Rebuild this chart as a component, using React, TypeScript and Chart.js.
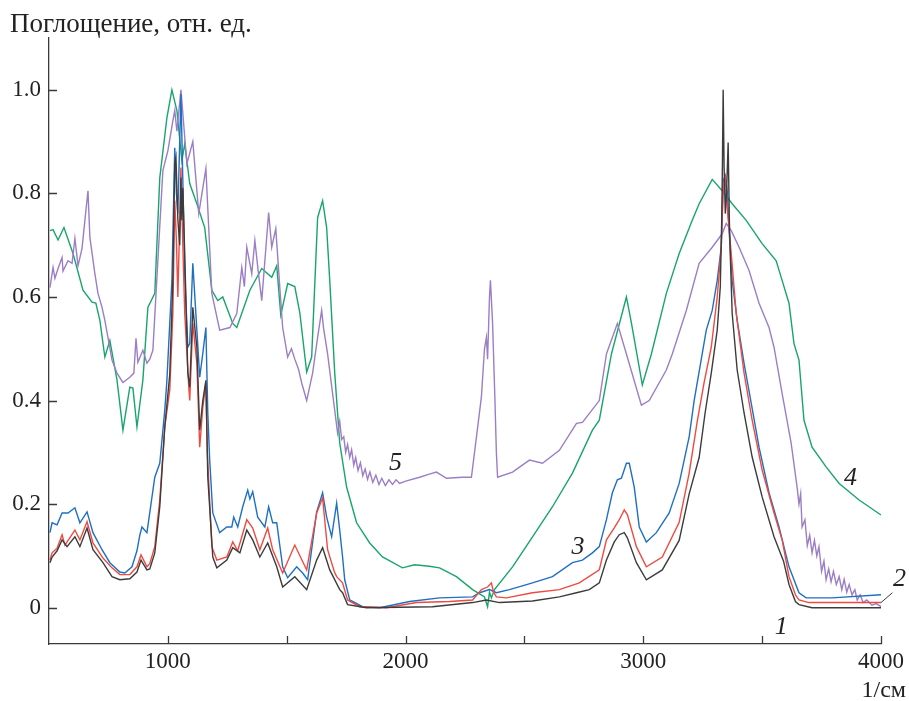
import { useEffect, useRef } from "react";
import { Chart, registerables } from "chart.js";

Chart.register(...registerables);

const SERIF = '"Liberation Serif", "Times New Roman", serif';

// Curve 1 (black)
const wn1 = [504,513,534,555,576,609,630,660,685,727,765,798,840,870,887,912,924,945,966,987,1008,1021,1029,1034,1042,1050,1055,1059,1063,1071,1084,1092,1105,1122,1134,1147,1160,1168,1189,1206,1248,1273,1303,1332,1357,1387,1420,1458,1483,1534,1584,1626,1651,1681,1723,1735,1756,1836,2113,2282,2340,2395,2534,2647,2719,2773,2815,2845,2878,2899,2920,2933,2971,3013,3080,3151,3193,3235,3260,3286,3311,3324,3330,3333,3336,3340,3345,3350,3353,3357,3362,3366,3374,3395,3424,3458,3500,3550,3590,3613,3640,3655,3710,4000];
const ab1 = [.087,.098,.11,.131,.118,.137,.118,.154,.112,.087,.06,.054,.056,.069,.092,.073,.075,.106,.195,.349,.45,.632,.857,.87,.75,.7,.83,.748,.811,.684,.453,.426,.58,.503,.343,.4,.439,.252,.098,.077,.092,.116,.106,.15,.131,.098,.125,.079,.04,.06,.035,.092,.116,.073,.035,.029,.006,0,.002,.01,.015,.01,.013,.021,.029,.035,.048,.092,.127,.141,.145,.135,.087,.054,.073,.13,.22,.29,.376,.453,.536,.62,.75,.86,1.0,.85,.761,.8,.84,.898,.75,.68,.568,.459,.376,.291,.214,.137,.09,.045,.012,.006,0,0];

// Curve 2 (red)
const wn2 = [504,513,534,555,567,609,630,660,685,727,765,798,840,870,887,912,924,945,966,987,1008,1021,1029,1036,1042,1048,1055,1063,1071,1088,1092,1105,1122,1134,1147,1160,1166,1185,1206,1248,1273,1294,1332,1357,1387,1420,1441,1483,1534,1584,1626,1651,1672,1700,1710,1735,1756,1807,1920,2046,2185,2282,2319,2345,2361,2370,2382,2424,2534,2647,2731,2815,2845,2878,2899,2920,2933,2971,3013,3080,3151,3193,3227,3256,3286,3311,3328,3336,3345,3353,3370,3391,3424,3458,3500,3550,3584,3613,3640,3655,3697,4000];
const ab2 = [.092,.106,.115,.141,.121,.15,.131,.166,.125,.096,.077,.064,.064,.079,.102,.079,.085,.118,.208,.349,.42,.568,.786,.709,.6,.709,.85,.7,.568,.426,.4,.549,.472,.31,.387,.434,.3,.118,.092,.098,.127,.11,.17,.154,.112,.154,.112,.067,.121,.073,.183,.212,.112,.07,.06,.048,.015,.002,0,.01,.012,.015,.035,.04,.048,.03,.021,.019,.029,.035,.048,.073,.131,.154,.17,.189,.18,.118,.079,.098,.165,.26,.36,.435,.503,.6,.696,.805,.83,.773,.684,.568,.453,.362,.266,.183,.131,.06,.025,.015,.01,.01];

// Curve 3 (blue)
const wn3 = [504,513,534,555,580,609,630,660,685,723,756,798,819,849,870,882,891,912,945,966,987,996,1017,1029,1036,1042,1055,1063,1071,1084,1092,1105,1122,1134,1147,1160,1168,1176,1189,1218,1248,1269,1277,1294,1315,1336,1345,1357,1378,1408,1424,1441,1458,1483,1504,1542,1567,1588,1626,1651,1668,1689,1710,1723,1735,1744,1765,1819,1891,2017,2143,2282,2311,2353,2382,2437,2534,2618,2702,2744,2786,2815,2845,2870,2891,2908,2929,2941,2962,2983,3013,3055,3109,3151,3193,3214,3244,3265,3290,3311,3328,3336,3345,3353,3361,3374,3395,3424,3454,3487,3529,3571,3613,3655,3685,3794,4000];
const ab3 = [.145,.164,.16,.183,.183,.193,.164,.185,.145,.112,.087,.069,.067,.079,.11,.14,.156,.145,.252,.279,.381,.439,.632,.888,.8,.761,.992,.825,.645,.503,.51,.665,.536,.445,.491,.541,.376,.285,.183,.145,.156,.156,.175,.156,.195,.227,.21,.224,.175,.156,.195,.164,.164,.079,.058,.079,.067,.054,.185,.222,.175,.137,.202,.15,.098,.054,.015,.002,0,.012,.019,.021,.029,.035,.029,.035,.048,.06,.087,.092,.106,.118,.17,.222,.247,.25,.279,.279,.233,.156,.127,.145,.183,.24,.33,.4,.48,.536,.574,.632,.696,.825,.834,.805,.728,.632,.555,.472,.395,.31,.222,.156,.079,.029,.019,.019,.025];

// Curve 4 (green)
const wn4 = [504,517,538,563,601,643,681,697,714,735,756,786,811,840,853,870,895,916,945,966,996,1017,1038,1059,1071,1092,1122,1155,1185,1210,1231,1273,1290,1345,1395,1437,1458,1475,1504,1534,1555,1584,1605,1630,1651,1668,1681,1702,1723,1752,1794,1849,1903,1987,2038,2100,2143,2214,2282,2332,2345,2353,2361,2374,2450,2534,2618,2702,2786,2815,2866,2929,2950,2996,3034,3097,3151,3206,3235,3290,3332,3374,3433,3500,3559,3584,3613,3634,3655,3676,3710,3769,3824,3908,4000];
const ab4 = [.728,.73,.71,.734,.684,.613,.59,.588,.555,.484,.516,.44,.343,.426,.424,.349,.44,.58,.607,.83,.946,1.0,.96,.863,.896,.819,.78,.734,.613,.593,.6,.549,.541,.613,.655,.638,.66,.565,.626,.62,.57,.455,.484,.753,.786,.734,.632,.453,.318,.233,.164,.125,.098,.077,.083,.08,.077,.06,.035,.021,.002,.03,.019,.035,.079,.137,.195,.26,.343,.362,.49,.6,.55,.43,.49,.607,.684,.748,.78,.827,.805,.78,.748,.703,.67,.632,.588,.51,.478,.362,.31,.272,.24,.208,.179];

// Curve 5 (purple)
const wn5 = [504,517,525,538,555,559,580,597,609,622,639,651,664,672,693,706,723,735,748,765,786,811,840,857,866,874,895,912,924,937,979,1000,1021,1029,1038,1055,1080,1105,1130,1160,1185,1218,1261,1290,1311,1322,1332,1353,1366,1380,1395,1424,1437,1454,1471,1483,1504,1520,1534,1550,1563,1584,1609,1630,1647,1655,1672,1693,1714,1723,1731,1740,1748,1756,1765,1773,1782,1790,1800,1810,1820,1830,1840,1850,1862,1875,1888,1900,1915,1930,1945,1960,1975,2004,2059,2100,2130,2172,2239,2277,2298,2319,2332,2340,2345,2353,2357,2366,2376,2382,2387,2450,2521,2576,2647,2719,2744,2815,2845,2891,2929,2992,3025,3097,3122,3181,3235,3290,3332,3349,3370,3403,3445,3487,3529,3550,3584,3622,3647,3655,3662,3668,3680,3690,3700,3710,3720,3730,3739,3750,3760,3769,3780,3790,3800,3812,3824,3835,3845,3856,3866,3878,3890,3900,3912,3925,3940,3962,3980,4000];
const ab5 = [.618,.657,.636,.655,.676,.65,.67,.665,.713,.66,.694,.748,.805,.715,.645,.607,.58,.555,.522,.478,.453,.435,.445,.453,.52,.474,.497,.472,.48,.497,.844,.882,.94,.96,.92,1.0,.857,.9,.761,.848,.607,.536,.541,.568,.657,.62,.696,.645,.709,.65,.593,.763,.696,.732,.618,.541,.484,.5,.48,.46,.434,.4,.453,.522,.574,.54,.49,.414,.337,.36,.325,.33,.3,.315,.29,.305,.275,.29,.265,.28,.255,.268,.248,.262,.242,.256,.238,.25,.236,.247,.238,.247,.24,.245,.252,.258,.262,.25,.252,.252,.329,.407,.5,.522,.48,.6,.632,.55,.4,.3,.252,.262,.285,.279,.304,.356,.358,.4,.49,.549,.49,.391,.4,.459,.49,.574,.665,.696,.722,.742,.728,.696,.651,.588,.541,.503,.414,.318,.233,.2,.22,.156,.17,.12,.14,.106,.13,.1,.118,.07,.09,.054,.075,.05,.07,.045,.06,.035,.055,.03,.045,.025,.035,.015,.025,.01,.015,.005,.008,.002];

const xMajorTicks = [1000, 2000, 3000, 4000];
const xAllTicks = [1000, 1500, 2000, 2500, 3000, 3500, 4000];
const yTickValues = [0, 0.2, 0.4, 0.6, 0.8, 1.0];

const curveLabels = [
  { text: "1", x: 3580, y: -0.038 },
  { text: "2", x: 4078, y: 0.055 },
  { text: "3", x: 2725, y: 0.117 },
  { text: "4", x: 3872, y: 0.251 },
  { text: "5", x: 1958, y: 0.28 },
];

const COLORS = {
  c1: "#3c3c3c",
  c2: "#ef4a40",
  c3: "#1f6fc2",
  c4: "#17a56c",
  c5: "#9b7ec6",
};

export default function App() {
  const ref = useRef<HTMLCanvasElement>(null);

  useEffect(() => {
    document.body.style.margin = "0";
    const toPts = (xs: number[], ys: number[]) => xs.map((x, i) => ({ x, y: ys[i] }));
    const ds = (label: string, xs: number[], ys: number[], color: string, order: number) => ({
      label,
      data: toPts(xs, ys),
      borderColor: color,
      backgroundColor: color,
      borderWidth: 1.4,
      pointRadius: 0,
      fill: false,
      tension: 0,
      order,
    });

    const overlay = {
      id: "overlay",
      afterDraw(chart: any) {
        const ctx = chart.ctx as CanvasRenderingContext2D;
        const xs = chart.scales.x;
        const ys = chart.scales.y;
        const area = chart.chartArea;
        ctx.save();
        ctx.strokeStyle = "#3a3a3a";
        ctx.lineWidth = 1.3;
        ctx.beginPath();
        for (const v of yTickValues) {
          const py = Math.round(ys.getPixelForValue(v)) + 0.5;
          ctx.moveTo(area.left, py);
          ctx.lineTo(area.left + 8, py);
        }
        for (const v of xAllTicks) {
          const px = Math.round(xs.getPixelForValue(v)) + 0.5;
          ctx.moveTo(px, area.bottom);
          ctx.lineTo(px, area.bottom - 8);
        }
        ctx.stroke();

        // leader for label 2
        ctx.lineWidth = 1;
        ctx.beginPath();
        ctx.moveTo(xs.getPixelForValue(4048), ys.getPixelForValue(0.029));
        ctx.lineTo(xs.getPixelForValue(4000), ys.getPixelForValue(0.01));
        ctx.stroke();

        ctx.fillStyle = "#222";
        ctx.font = `27px ${SERIF}`;
        ctx.textAlign = "left";
        ctx.textBaseline = "alphabetic";
        ctx.fillText("Поглощение, отн. ед.", 10, 32);

        ctx.font = `24px ${SERIF}`;
        ctx.textAlign = "right";
        ctx.fillText("1/см", 906, 697);

        ctx.font = `italic 26px ${SERIF}`;
        ctx.textAlign = "center";
        ctx.textBaseline = "middle";
        for (const l of curveLabels) {
          ctx.fillText(l.text, xs.getPixelForValue(l.x), ys.getPixelForValue(l.y));
        }
        ctx.restore();
      },
    };

    const chart = new Chart(ref.current as HTMLCanvasElement, {
      type: "line",
      data: {
        datasets: [
          ds("1", wn1, ab1, COLORS.c1, 1),
          ds("2", wn2, ab2, COLORS.c2, 2),
          ds("3", wn3, ab3, COLORS.c3, 3),
          ds("5", wn5, ab5, COLORS.c5, 4),
          ds("4", wn4, ab4, COLORS.c4, 5),
        ] as any,
      },
      options: {
        animation: false,
        responsive: false,
        layout: { padding: { top: 38, right: 28, left: 0, bottom: 0 } },
        plugins: { legend: { display: false }, tooltip: { enabled: false } },
        scales: {
          x: {
            type: "linear",
            min: 500,
            max: 4000,
            grid: { display: false, drawTicks: false },
            border: { display: true, color: "#3a3a3a", width: 1.3 },
            afterBuildTicks: (s: any) => {
              s.ticks = xMajorTicks.map((v) => ({ value: v }));
            },
            afterFit: (s: any) => {
              s.height = 57;
            },
            ticks: {
              font: { family: SERIF, size: 23 },
              color: "#222",
              padding: 4,
              maxRotation: 0,
              autoSkip: false,
              callback: (v: any) => String(v),
            },
          },
          y: {
            type: "linear",
            min: -0.07,
            max: 1.1,
            grid: { display: false, drawTicks: false },
            border: { display: true, color: "#3a3a3a", width: 1.3 },
            afterBuildTicks: (s: any) => {
              s.ticks = yTickValues.map((v) => ({ value: v }));
            },
            afterFit: (s: any) => {
              s.width = 49;
            },
            ticks: {
              font: { family: SERIF, size: 23 },
              color: "#222",
              padding: 8,
              autoSkip: false,
              callback: (v: any) => (Number(v) === 0 ? "0" : Number(v).toFixed(1)),
            },
          },
        },
      } as any,
      plugins: [overlay],
    });
    return () => chart.destroy();
  }, []);

  return (
    <div style={{ width: 909, height: 701 }}>
      <canvas ref={ref} width={909} height={701} style={{ display: "block" }} />
    </div>
  );
}
